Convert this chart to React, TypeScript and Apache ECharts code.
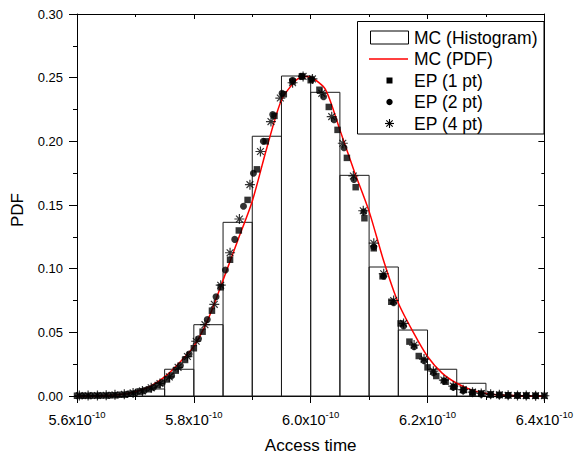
import React, { useEffect, useRef } from "react";
import * as echarts from "echarts";

const FONT = '"Liberation Sans", Arial, Helvetica, sans-serif';

// Histogram bins (x in units of 1e-10)
const histStart = [5.70, 5.75, 5.80, 5.85, 5.90, 5.95, 6.00, 6.05, 6.10, 6.15, 6.20, 6.25];
const histEnd = [5.75, 5.80, 5.85, 5.90, 5.95, 6.00, 6.05, 6.10, 6.15, 6.20, 6.25, 6.30];
const histPdf = [0.0055, 0.021, 0.056, 0.1364, 0.204, 0.2513, 0.2385, 0.1733, 0.1013, 0.0518, 0.021, 0.010];

// MC (PDF) red curve
const pdfX = [5.60, 5.625, 5.65, 5.675, 5.70, 5.725, 5.75, 5.775, 5.80, 5.825, 5.85, 5.875, 5.90, 5.925, 5.95, 5.975, 5.99, 6.00, 6.025, 6.05, 6.075, 6.10, 6.125, 6.15, 6.175, 6.20, 6.225, 6.25, 6.275, 6.30, 6.325, 6.35, 6.375, 6.40];
const pdfY = [0.0000, 0.0001, 0.0003, 0.0012, 0.0034, 0.0075, 0.015, 0.026, 0.039, 0.061, 0.091, 0.122, 0.153, 0.195, 0.2325, 0.248, 0.251, 0.2505, 0.241, 0.209, 0.176, 0.145, 0.106, 0.073, 0.0505, 0.031, 0.018, 0.010, 0.0048, 0.002, 0.0008, 0.0003, 0.0001, 0.0000];

// EP (1 pt) squares
const ep1X = [5.600, 5.615, 5.631, 5.646, 5.662, 5.677, 5.692, 5.708, 5.723, 5.738, 5.754, 5.769, 5.785, 5.800, 5.815, 5.831, 5.846, 5.862, 5.877, 5.892, 5.908, 5.923, 5.938, 5.954, 5.969, 5.985, 6.000, 6.015, 6.031, 6.046, 6.062, 6.077, 6.092, 6.108, 6.123, 6.138, 6.154, 6.169, 6.185, 6.200, 6.215, 6.231, 6.246, 6.262, 6.277, 6.292, 6.308, 6.323, 6.338, 6.354, 6.369, 6.385, 6.400];
const ep1Y = [0.0002, 0.0002, 0.0003, 0.0004, 0.0006, 0.0010, 0.0018, 0.0034, 0.0053, 0.0086, 0.0130, 0.0199, 0.0283, 0.0375, 0.0505, 0.0670, 0.0854, 0.1070, 0.1300, 0.1540, 0.1780, 0.2000, 0.2200, 0.2370, 0.2470, 0.2510, 0.2480, 0.2405, 0.2270, 0.2090, 0.1870, 0.1640, 0.1396, 0.1160, 0.0940, 0.0740, 0.0570, 0.0427, 0.0314, 0.0225, 0.0157, 0.0112, 0.0073, 0.0048, 0.0030, 0.0020, 0.0013, 0.0009, 0.0006, 0.0004, 0.0003, 0.0002, 0.0002];

// EP (2 pt) circles
const ep2X = [5.608, 5.623, 5.638, 5.654, 5.669, 5.685, 5.700, 5.715, 5.731, 5.746, 5.762, 5.777, 5.792, 5.808, 5.823, 5.838, 5.854, 5.870, 5.885, 5.902, 5.919, 5.935, 5.951, 5.969, 5.985, 6.002, 6.022, 6.040, 6.057, 6.074, 6.091, 6.108, 6.125, 6.142, 6.159, 6.177, 6.194, 6.210, 6.228, 6.244, 6.261, 6.277, 6.292, 6.308, 6.323, 6.338, 6.354, 6.369, 6.385];
const ep2Y = [0.0002, 0.0003, 0.0004, 0.0005, 0.0008, 0.0013, 0.0024, 0.0042, 0.0068, 0.0105, 0.0160, 0.0240, 0.0330, 0.0450, 0.0600, 0.0780, 0.0990, 0.1230, 0.1490, 0.1750, 0.2000, 0.2210, 0.2377, 0.2480, 0.2510, 0.2490, 0.2350, 0.2170, 0.1950, 0.1700, 0.1447, 0.1170, 0.0940, 0.0733, 0.0550, 0.0387, 0.0277, 0.0183, 0.0120, 0.0068, 0.0042, 0.0021, 0.0014, 0.0010, 0.0007, 0.0005, 0.0004, 0.0003, 0.0002];

// EP (4 pt) asterisks
const ep4X = [5.604, 5.619, 5.635, 5.650, 5.665, 5.681, 5.696, 5.712, 5.727, 5.742, 5.758, 5.773, 5.789, 5.804, 5.819, 5.835, 5.846, 5.862, 5.878, 5.896, 5.914, 5.932, 5.948, 5.969, 5.987, 6.003, 6.019, 6.036, 6.055, 6.073, 6.090, 6.108, 6.125, 6.142, 6.159, 6.177, 6.194, 6.210, 6.228, 6.244, 6.261, 6.277, 6.292, 6.308, 6.323, 6.338, 6.354, 6.369, 6.385, 6.400];
const ep4Y = [0.0003, 0.0003, 0.0004, 0.0006, 0.0009, 0.0014, 0.0024, 0.0040, 0.0064, 0.0098, 0.0150, 0.0225, 0.0310, 0.0430, 0.0560, 0.0720, 0.0870, 0.1125, 0.1390, 0.1660, 0.1920, 0.2155, 0.2340, 0.2460, 0.2510, 0.2490, 0.2377, 0.2194, 0.1985, 0.1728, 0.1455, 0.1200, 0.0960, 0.0750, 0.0570, 0.0400, 0.0290, 0.0195, 0.0125, 0.0078, 0.0050, 0.0030, 0.0020, 0.0013, 0.0009, 0.0006, 0.0004, 0.0003, 0.0002, 0.0002];

const legendNames = ["MC (Histogram)", "MC (PDF)", "EP (1 pt)", "EP (2 pt)", "EP (4 pt)"];

const ASTERISK = "path://M5 0L5 10M0 5L10 5M1.6 1.6L8.4 8.4M8.4 1.6L1.6 8.4";

const xMin = 5.6, xMax = 6.4, xInterval = 0.2;
const yMin = 0, yMax = 0.3, yInterval = 0.05;

export default function App() {
  const ref = useRef<HTMLDivElement>(null);
  useEffect(() => {
    if (!ref.current) return;
    const chart = echarts.init(ref.current, undefined, { renderer: "svg" });
    const black = "#000";
    const axisCommon = {
      type: "value" as const,
      axisLine: { show: true, onZero: false, lineStyle: { color: black, width: 1 } },
      splitLine: { show: false },
      minorSplitLine: { show: false },
    };
    const legendX = 357.5, legendY = 21.5, rowH = 21.5, textX = 414, iconCx = 389.5;
    const rowY = (i: number) => 37.5 + i * rowH;
    const astLines = (cx: number, cy: number) => {
      const r = 4.5, d = 3.2;
      return [
        [cx - r, cy, cx + r, cy],
        [cx, cy - r, cx, cy + r],
        [cx - d, cy - d, cx + d, cy + d],
        [cx + d, cy - d, cx - d, cy + d],
      ].map((s) => ({
        type: "line",
        shape: { x1: s[0], y1: s[1], x2: s[2], y2: s[3] },
        style: { stroke: black, lineWidth: 1.1 },
        z: 101,
      }));
    };
    const option: any = {
      animation: false,
      backgroundColor: "#fff",
      textStyle: { fontFamily: FONT },
      grid: { left: 77, right: 27, top: 14, bottom: 63, containLabel: false },
      xAxis: [
        {
          ...axisCommon,
          position: "bottom",
          min: xMin,
          max: xMax,
          interval: xInterval,
          name: "Access time",
          nameLocation: "middle",
          nameGap: 41,
          nameTextStyle: { fontSize: 17, fontFamily: FONT, color: black },
          axisTick: { show: true, inside: false, length: 7, lineStyle: { color: black } },
          minorTick: { show: true, splitNumber: 2, length: 4, lineStyle: { color: black } },
          axisLabel: {
            show: true,
            margin: 13,
            fontSize: 14.5,
            fontFamily: FONT,
            color: black,
            formatter: (v: number) => `{a|${v.toFixed(1)}x10}{s|-10}`,
            rich: {
              a: { fontSize: 14.5, fontFamily: FONT, color: black, lineHeight: 18, verticalAlign: "bottom" },
              s: { fontSize: 9.5, fontFamily: FONT, color: black, lineHeight: 9, verticalAlign: "top" },
            },
          },
        },
        {
          ...axisCommon,
          position: "top",
          min: xMin,
          max: xMax,
          interval: xInterval,
          axisTick: { show: true, inside: true, length: 5, lineStyle: { color: black } },
          minorTick: { show: true, splitNumber: 2, length: 3, lineStyle: { color: black } },
          axisLabel: { show: false },
        },
      ],
      yAxis: [
        {
          ...axisCommon,
          position: "left",
          min: yMin,
          max: yMax,
          interval: yInterval,
          name: "PDF",
          nameLocation: "middle",
          nameGap: 51,
          nameRotate: 90,
          nameTextStyle: { fontSize: 17, fontFamily: FONT, color: black, padding: [0, 10, 0, 0] },
          axisTick: { show: true, inside: false, length: 8, lineStyle: { color: black } },
          minorTick: { show: true, splitNumber: 2, length: 4, lineStyle: { color: black } },
          axisLabel: {
            show: true,
            margin: 14,
            fontSize: 13,
            fontFamily: FONT,
            color: black,
            formatter: (v: number) => v.toFixed(2),
          },
        },
        {
          ...axisCommon,
          position: "right",
          min: yMin,
          max: yMax,
          interval: yInterval,
          axisTick: { show: true, inside: true, length: 6, lineStyle: { color: black } },
          minorTick: { show: true, splitNumber: 2, length: 3, lineStyle: { color: black } },
          axisLabel: { show: false },
        },
      ],
      series: [
        {
          name: legendNames[0],
          type: "custom",
          xAxisIndex: 0,
          yAxisIndex: 0,
          silent: true,
          z: 1,
          encode: { x: [0, 1], y: 2 },
          data: histStart.map((s, i) => [s, histEnd[i], histPdf[i]]),
          renderItem: (params: any, api: any) => {
            const p0 = api.coord([api.value(0), api.value(2)]);
            const p1 = api.coord([api.value(1), 0]);
            return {
              type: "rect",
              shape: { x: p0[0], y: p0[1], width: p1[0] - p0[0], height: p1[1] - p0[1] },
              style: { fill: "none", stroke: "#1a1a1a", lineWidth: 1 },
            };
          },
        },
        {
          name: legendNames[1],
          type: "line",
          xAxisIndex: 0,
          yAxisIndex: 0,
          z: 2,
          smooth: 0.25,
          symbol: "none",
          showSymbol: false,
          lineStyle: { color: "#ff0000", width: 1.5 },
          data: pdfX.map((x, i) => [x, pdfY[i]]),
        },
        {
          name: legendNames[2],
          type: "scatter",
          z: 3,
          symbol: "rect",
          symbolSize: 6.5,
          itemStyle: { color: black },
          data: ep1X.map((x, i) => [x, ep1Y[i]]),
        },
        {
          name: legendNames[3],
          type: "scatter",
          z: 3,
          symbol: "circle",
          symbolSize: 7,
          itemStyle: { color: black },
          data: ep2X.map((x, i) => [x, ep2Y[i]]),
        },
        {
          name: legendNames[4],
          type: "scatter",
          z: 3,
          symbol: ASTERISK,
          symbolSize: 10,
          itemStyle: { color: "rgba(0,0,0,0)", borderColor: black, borderWidth: 1.2 },
          data: ep4X.map((x, i) => [x, ep4Y[i]]),
        },
      ],
      graphic: [
        {
          type: "rect",
          shape: { x: legendX, y: legendY, width: 186.5, height: 112.5 },
          style: { fill: "#fff", stroke: black, lineWidth: 1 },
          z: 100,
        },
        {
          type: "rect",
          shape: { x: 370.5, y: 31, width: 38, height: 13 },
          style: { fill: "#fff", stroke: black, lineWidth: 1 },
          z: 101,
        },
        {
          type: "line",
          shape: { x1: 369, y1: rowY(1), x2: 408, y2: rowY(1) },
          style: { stroke: "#ff0000", lineWidth: 1.5 },
          z: 101,
        },
        {
          type: "rect",
          shape: { x: iconCx - 3, y: rowY(2) - 3, width: 6, height: 6 },
          style: { fill: black },
          z: 101,
        },
        {
          type: "circle",
          shape: { cx: iconCx, cy: rowY(3), r: 3.2 },
          style: { fill: black },
          z: 101,
        },
        ...astLines(iconCx, rowY(4)),
        ...legendNames.map((n, i) => ({
          type: "text",
          x: textX,
          y: rowY(i),
          z: 101,
          style: {
            text: n,
            fontSize: 17.5,
            fontFamily: FONT,
            fill: black,
            verticalAlign: "middle",
            align: "left",
          },
        })),
      ],
    };
    chart.setOption(option);
    return () => chart.dispose();
  }, []);
  return (
    <div
      ref={ref}
      style={{ position: "fixed", left: 0, top: 0, width: 576, height: 459, background: "#fff" }}
    />
  );
}
